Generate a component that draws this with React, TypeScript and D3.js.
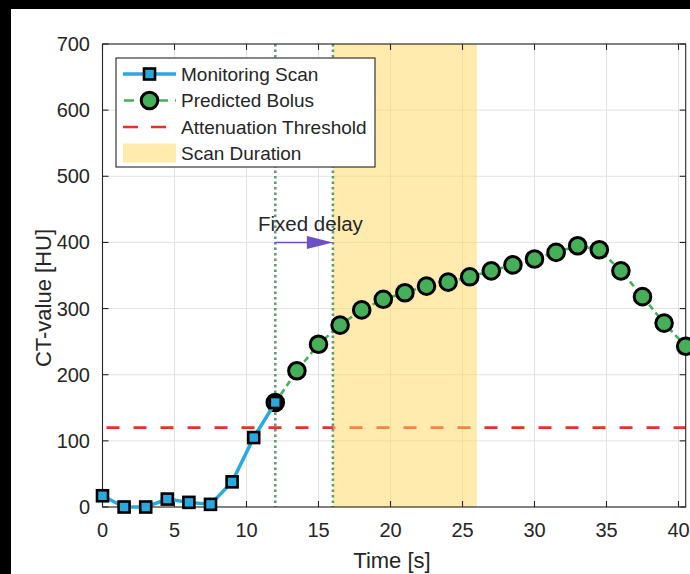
import React from "react";
import * as d3 from "d3";

// Monitoring scan samples (time in s, CT value in HU)
const monitorTimes = [0, 1.5, 3, 4.5, 6, 7.5, 9, 10.5, 12];
const monitorValues = [17, 0, 0, 12, 7, 4, 38, 105, 158];

// Predicted bolus curve
const predictTimes = [12, 13.5, 15, 16.5, 18, 19.5, 21, 22.5, 24, 25.5, 27, 28.5, 30, 31.5, 33, 34.5, 36, 37.5, 39, 40.5];
const predictValues = [158, 206, 246, 275, 298, 314, 324, 334, 340, 348, 357, 366, 375, 385, 395, 389, 357, 318, 278, 243];

const thresholdHU = 120;
const delayStart = 12;
const delayEnd = 16;
const scanEnd = 26;
const arrowLevel = 400;

const xTicks = [0, 5, 10, 15, 20, 25, 30, 35, 40];
const yTicks = [0, 100, 200, 300, 400, 500, 600, 700];

const legendLabels = ["Monitoring Scan", "Predicted Bolus", "Attenuation Threshold", "Scan Duration"];

const W = 690;
const H = 574;
const FONT = "'Liberation Sans', Arial, Helvetica, sans-serif";

export default function App() {
  const left = 102.5;
  const right = 685.7;
  const top = 44;
  const bottom = 507;

  const x = d3.scaleLinear().domain([0, 40.5]).range([left, right]);
  const y = d3.scaleLinear().domain([0, 700]).range([bottom, top]);

  const monitor = monitorTimes.map((t, i) => [t, monitorValues[i]] as [number, number]);
  const predict = predictTimes.map((t, i) => [t, predictValues[i]] as [number, number]);

  const line = d3
    .line<[number, number]>()
    .x((d) => x(d[0]))
    .y((d) => y(d[1]));

  const axisColor = "#262626";
  const gridColor = "#e3e3e3";
  const tickLen = 6;

  const blue = "#2aa8e0";
  const green = "#45b058";
  const red = "#e8312b";
  const vGreen = "#5f9c75";
  const purple = "#6e50c6";

  const sq = 11;
  const ay = y(arrowLevel);
  const ax0 = x(delayStart);
  const ax1 = x(delayEnd);

  // legend geometry
  const lgX = 116;
  const lgY = 58;
  const lgW = 259;
  const lgH = 109;
  const rowY = [74, 100.5, 127, 153];
  const sampleX0 = 123;
  const sampleX1 = 176;
  const textX = 181;

  return (
    <svg
      width={W}
      height={H}
      style={{ position: "absolute", left: 0, top: 0, display: "block" }}
      fontFamily={FONT}
    >
      <rect x={0} y={0} width={W} height={H} fill="#000" />
      <rect x={11} y={9} width={W - 11} height={H - 9} fill="#fff" />

      {/* grid */}
      {xTicks.map((t) => (
        <line key={"gx" + t} x1={x(t)} x2={x(t)} y1={top} y2={bottom} stroke={gridColor} strokeWidth={1} />
      ))}
      {yTicks.map((t) => (
        <line key={"gy" + t} x1={left} x2={right} y1={y(t)} y2={y(t)} stroke={gridColor} strokeWidth={1} />
      ))}

      {/* attenuation threshold */}
      <line
        x1={left}
        x2={right}
        y1={y(thresholdHU)}
        y2={y(thresholdHU)}
        stroke={red}
        strokeWidth={2.6}
        strokeDasharray="13 14"
        strokeDashoffset={-4}
      />

      {/* scan duration band */}
      <rect
        x={x(delayEnd)}
        y={top}
        width={x(scanEnd) - x(delayEnd)}
        height={bottom - top}
        fill="#ffd75e"
        fillOpacity={0.5}
      />

      {/* delay markers */}
      {[delayStart, delayEnd].map((t) => (
        <line
          key={"v" + t}
          x1={x(t)}
          x2={x(t)}
          y1={top}
          y2={bottom}
          stroke={vGreen}
          strokeWidth={2.6}
          strokeDasharray="2.5 3"
        />
      ))}

      {/* axes box and ticks */}
      <rect x={left} y={top} width={right - left} height={bottom - top} fill="none" stroke={axisColor} strokeWidth={1.1} />
      {xTicks.map((t) => (
        <g key={"tx" + t}>
          <line x1={x(t)} x2={x(t)} y1={bottom} y2={bottom - tickLen} stroke={axisColor} strokeWidth={1.1} />
          <line x1={x(t)} x2={x(t)} y1={top} y2={top + tickLen} stroke={axisColor} strokeWidth={1.1} />
          <text x={x(t)} y={537} textAnchor="middle" fontSize={20} fill="#262626">
            {t}
          </text>
        </g>
      ))}
      {yTicks.map((t) => (
        <g key={"ty" + t}>
          <line x1={left} x2={left + tickLen} y1={y(t)} y2={y(t)} stroke={axisColor} strokeWidth={1.1} />
          <line x1={right} x2={right - tickLen} y1={y(t)} y2={y(t)} stroke={axisColor} strokeWidth={1.1} />
          <text x={90} y={y(t)} dy="0.35em" textAnchor="end" fontSize={20} fill="#262626">
            {t}
          </text>
        </g>
      ))}

      {/* predicted bolus */}
      <path d={line(predict) ?? ""} fill="none" stroke={green} strokeWidth={2.6} strokeDasharray="6 4" />
      {predict.map((d, i) => (
        <circle key={"p" + i} cx={x(d[0])} cy={y(d[1])} r={8.3} fill={green} stroke="#000" strokeWidth={3} />
      ))}

      {/* monitoring scan */}
      <path d={line(monitor) ?? ""} fill="none" stroke={blue} strokeWidth={3.5} strokeLinejoin="round" />
      {monitor.map((d, i) => (
        <rect
          key={"m" + i}
          x={x(d[0]) - sq / 2}
          y={y(d[1]) - sq / 2}
          width={sq}
          height={sq}
          fill={blue}
          stroke="#000"
          strokeWidth={2.6}
        />
      ))}

      {/* fixed delay arrow */}
      <line x1={ax0} x2={ax1 - 24} y1={ay} y2={ay} stroke={purple} strokeWidth={1.6} />
      <path d={`M${ax1},${ay} L${ax1 - 26},${ay - 6.5} L${ax1 - 26},${ay + 6.5} Z`} fill={purple} />
      <text x={258} y={231} fontSize={20.5} fill="#262626">
        Fixed delay
      </text>

      {/* axis labels */}
      <text x={392} y={568} textAnchor="middle" fontSize={22} fill="#262626">
        Time [s]
      </text>
      <text
        transform={`translate(51,${298}) rotate(-90)`}
        textAnchor="middle"
        fontSize={22}
        fill="#262626"
      >
        CT-value [HU]
      </text>

      {/* legend */}
      <rect x={lgX} y={lgY} width={lgW} height={lgH} fill="#fff" stroke={axisColor} strokeWidth={1.1} />
      <line x1={sampleX0} x2={sampleX1} y1={rowY[0]} y2={rowY[0]} stroke={blue} strokeWidth={3.5} />
      <rect
        x={(sampleX0 + sampleX1) / 2 - sq / 2}
        y={rowY[0] - sq / 2}
        width={sq}
        height={sq}
        fill={blue}
        stroke="#000"
        strokeWidth={2.6}
      />
      <line x1={sampleX0} x2={sampleX1} y1={rowY[1]} y2={rowY[1]} stroke={green} strokeWidth={2.6} strokeDasharray="10 7" strokeDashoffset={-1} />
      <circle cx={(sampleX0 + sampleX1) / 2} cy={rowY[1]} r={8.3} fill={green} stroke="#000" strokeWidth={3} />
      <line x1={sampleX0} x2={sampleX1} y1={rowY[2]} y2={rowY[2]} stroke={red} strokeWidth={2.6} strokeDasharray="15 13" />
      <rect x={sampleX0} y={rowY[3] - 9.5} width={sampleX1 - sampleX0} height={19} fill="#ffd75e" fillOpacity={0.5} />
      {legendLabels.map((s, i) => (
        <text key={s} x={textX} y={rowY[i]} dy="0.35em" fontSize={19} fill="#262626">
          {s}
        </text>
      ))}
    </svg>
  );
}
